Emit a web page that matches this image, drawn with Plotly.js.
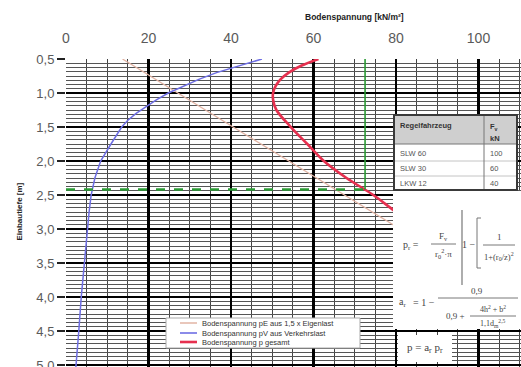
<!DOCTYPE html>
<html><head><meta charset="utf-8">
<script src="https://cdn.plot.ly/plotly-3.0.1.min.js"></script>
<style>html,body{margin:0;padding:0;background:#fff;overflow:hidden}#chart{width:521px;height:367px;}</style>
</head><body><div id="chart"></div>
<script>
// ---- data ----
const depthE = [0.5, 1.0, 1.5, 2.0, 2.5, 3.0, 3.5];
const pressureE = [13.7, 27.0, 40.5, 54.0, 67.5, 81.0, 94.5];
const depthV = [0.5, 0.6, 0.7, 0.8, 0.9, 1.0, 1.1, 1.2, 1.3, 1.4, 1.5, 1.75, 2.0, 2.25, 2.5, 2.75, 3.0, 3.5, 4.0, 4.5, 5.0, 5.1];
const pressureV = [47.5, 41.8, 36.5, 32.2, 28.3, 24.8, 21.9, 19.3, 17.0, 15.0, 13.5, 10.9, 8.4, 7.0, 6.1, 5.6, 5.2, 4.4, 3.7, 3.1, 2.4, 2.3];
const depthTotal = [0.5, 0.6, 0.7, 0.8, 0.9, 1.0, 1.1, 1.25, 1.5, 1.75, 2.0, 2.25, 2.5, 2.75, 3.0, 3.25, 3.5];
const pressureTotal = [61.2, 57.0, 54.0, 52.0, 50.8, 50.2, 50.2, 51.0, 54.5, 58.5, 62.5, 68.0, 74.5, 80.0, 86.0, 92.0, 99.0];
const limitPressure = [72.5, 72.5];
const limitDepth = [0.5, 2.42];
const dashPressure = [0, 72.5];
const dashDepth = [2.42, 2.42];
const legendLabels = ["Bodenspannung pE aus 1,5 x Eigenlast", "Bodenspannung pV aus Verkehrslast", "Bodenspannung p gesamt"];
const vehicles = ["SLW 60", "SLW 30", "LKW 12"];
const forces = ["100", "60", "40"];
const xTitle = "Bodenspannung [kN/m²]";
const yTitle = "Einbautiefe [m]";

const colE = "#e2b4a4", colV = "#6e6ee4", colT = "#e6304f", colG = "#2a9a34";

// plot area geometry (pixels)
const L = 66, T = 59, W = 455, H = 308;
const px = x => (x - L) / W;
const py = y => 1 - (y - T) / H;

const traces = [
  {x: pressureE, y: depthE, mode: "lines", line: {color: colE, width: 1.3}, hoverinfo: "skip"},
  {x: pressureV, y: depthV, mode: "lines", line: {color: colV, width: 1.5}, hoverinfo: "skip"},
  {x: pressureTotal, y: depthTotal, mode: "lines", line: {color: colT, width: 2.6, shape: "spline"}, hoverinfo: "skip"},
  {x: limitPressure, y: limitDepth, mode: "lines", line: {color: colG, width: 1.6}, hoverinfo: "skip"},
  {x: dashPressure, y: dashDepth, mode: "lines", line: {color: colG, width: 2.6, dash: "dash"}, hoverinfo: "skip"}
];

function rect(x0, y0, x1, y1, fill, lc, lw) {
  return {type: "rect", xref: "paper", yref: "paper", x0: px(x0), x1: px(x1), y0: py(y0), y1: py(y1),
    fillcolor: fill || "rgba(0,0,0,0)", line: {color: lc || "rgba(0,0,0,0)", width: lw || 0}, layer: "above"};
}
function seg(x0, y0, x1, y1, c, w) {
  return {type: "line", xref: "paper", yref: "paper", x0: px(x0), x1: px(x1), y0: py(y0), y1: py(y1),
    line: {color: c, width: w}, layer: "above"};
}
function ann(x, y, text, size, opt) {
  opt = opt || {};
  return Object.assign({xref: "paper", yref: "paper", x: px(x), y: py(y), text: text, showarrow: false,
    xanchor: "center", yanchor: "middle",
    font: {family: opt.family || "Liberation Sans, Arial, sans-serif", size: size, color: opt.color || "#333"}}, opt.extra || {});
}

const serif = "Liberation Serif, Times New Roman, serif";
const shapes = [
  rect(393, 191, 521, 329, "#fff"),
  rect(398, 335, 452, 362, "#fff"),
  rect(394, 115, 517, 190, "#fff"),
  rect(394, 115, 517, 144, "#cfcfcf"),
  seg(394, 161, 517, 161, "#c4c4c4", 1),
  seg(394, 176, 517, 176, "#c4c4c4", 1),
  seg(394, 144, 517, 144, "#777", 1),
  seg(484, 115, 484, 190, "#777", 1),
  rect(394, 115, 517, 190, null, "#3a3a3a", 2),
  seg(431, 244, 456, 244, "#555", 0.8),
  seg(462, 210, 462, 285, "#777", 1.2),
  seg(477, 218, 477, 268, "#777", 1),
  seg(477, 218, 481, 218, "#777", 1),
  seg(477, 268, 481, 268, "#777", 1),
  seg(483, 245, 515, 245, "#555", 0.8),
  seg(438, 298, 518, 298, "#555", 0.8),
  seg(470, 316, 516, 316, "#555", 0.8),
  rect(166, 318, 360, 348, "#fff", "#aaa", 1),
  seg(180, 323, 197, 323, colE, 1.5),
  seg(180, 333, 197, 333, colV, 1.6),
  seg(180, 342, 197, 342, colT, 2.6)
];

const annotations = [
  ann(354, 17, "<b>" + xTitle + "</b>", 8.5, {color: "#222"}),
  ann(18.5, 212, "<b>" + yTitle + "</b>", 8, {color: "#222", extra: {textangle: -90}}),
  ann(200, 323, legendLabels[0], 7.5, {extra: {xanchor: "left"}}),
  ann(200, 333, legendLabels[1], 7.5, {extra: {xanchor: "left"}}),
  ann(200, 342, legendLabels[2], 7.5, {extra: {xanchor: "left"}}),
  ann(398, 126, "<b>Regelfahrzeug</b>", 7.5, {extra: {xanchor: "left"}}),
  ann(488, 127, "<b>F<sub>v</sub></b>", 7.5, {extra: {xanchor: "left"}}),
  ann(488, 138, "<b>kN</b>", 7.5, {extra: {xanchor: "left"}}),
  ann(398, 153, vehicles[0], 7.5, {color: "#555", extra: {xanchor: "left"}}),
  ann(398, 168, vehicles[1], 7.5, {color: "#555", extra: {xanchor: "left"}}),
  ann(398, 183, vehicles[2], 7.5, {color: "#555", extra: {xanchor: "left"}}),
  ann(488, 153, forces[0], 7.5, {color: "#555", extra: {xanchor: "left"}}),
  ann(488, 168, forces[1], 7.5, {color: "#555", extra: {xanchor: "left"}}),
  ann(488, 183, forces[2], 7.5, {color: "#555", extra: {xanchor: "left"}}),
  ann(411, 245, "p<sub>r</sub> =", 10, {family: serif, color: "#444"}),
  ann(443, 236, "F<sub>v</sub>", 9, {family: serif, color: "#444"}),
  ann(443, 253, "r<sub>0</sub><sup>2</sup>·π", 9, {family: serif, color: "#444"}),
  ann(469, 244, "1 −", 10, {family: serif, color: "#444"}),
  ann(499, 237, "1", 9, {family: serif, color: "#444"}),
  ann(499, 256, "1+(r<sub>0</sub>/z)<sup>2</sup>", 8.5, {family: serif, color: "#444"}),
  ann(402, 302, "a<sub>r</sub>", 10, {family: serif, color: "#444"}),
  ann(424, 302, "= 1 −", 10, {family: serif, color: "#444"}),
  ann(477, 291, "0,9", 9, {family: serif, color: "#444"}),
  ann(455, 316, "0,9 +", 9, {family: serif, color: "#444"}),
  ann(493, 309, "4h<sup>2</sup> + b<sup>2</sup>", 8, {family: serif, color: "#444"}),
  ann(493, 323, "1,1d<sub>m</sub><sup>2,5</sup>", 8, {family: serif, color: "#444"}),
  ann(425, 348, "p = a<sub>r</sub> p<sub>r</sub>", 11, {family: serif, color: "#444"})
];

const layout = {
  width: 521, height: 367,
  margin: {l: L, r: 0, t: T, b: 0, pad: 0},
  paper_bgcolor: "#fff", plot_bgcolor: "#fff",
  showlegend: false,
  separators: ",.",
  font: {family: "Liberation Sans, Arial, sans-serif", color: "#5a5a5a"},
  xaxis: {
    side: "top", range: [0, 110.3], tick0: 0, dtick: 20, tickformat: "d",
    showgrid: true, gridcolor: "#000", gridwidth: 2.5,
    minor: {dtick: 5, showgrid: true, gridcolor: "#444", gridwidth: 1},
    zeroline: false, showline: false, ticks: "", ticklabelstandoff: 12,
    tickfont: {size: 14, color: "#5a5a5a"}, fixedrange: true
  },
  yaxis: {
    range: [5.029, 0.5], tick0: 0.5, dtick: 0.5, tickformat: ".1f",
    showgrid: true, gridcolor: "#000", gridwidth: 2.5,
    minor: {dtick: 0.0625, showgrid: true, gridcolor: "#555", gridwidth: 1},
    zeroline: false, showline: false, ticks: "outside", ticklen: 8, tickwidth: 2, tickcolor: "#222",
    ticklabeloverflow: "allow",
    tickfont: {size: 13, color: "#5a5a5a"}, fixedrange: true
  },
  shapes: shapes,
  annotations: annotations
};

Plotly.newPlot("chart", traces, layout, {staticPlot: true, displayModeBar: false});
</script>
</body></html>
